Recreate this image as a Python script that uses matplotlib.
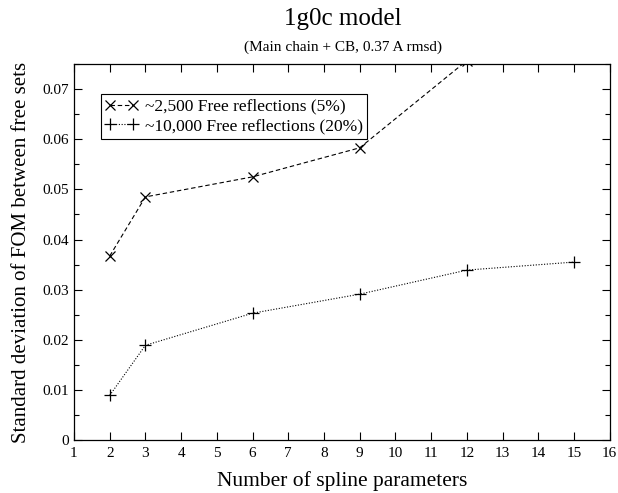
import matplotlib
matplotlib.use("Agg")
import matplotlib.pyplot as plt
from matplotlib.ticker import MultipleLocator

# ── DATA ────────────────────────────────────────────────────────────────────
spline_params = [2, 3, 6, 9, 12]
fom_sd_5pct   = [0.0367, 0.0485, 0.0525, 0.0583, 0.0757]

spline_params_20 = [2, 3, 6, 9, 12, 15]
fom_sd_20pct     = [0.0089, 0.0189, 0.0253, 0.0291, 0.0339, 0.0355]

x_ticks = list(range(1, 17))
y_ticks = [0, 0.01, 0.02, 0.03, 0.04, 0.05, 0.06, 0.07]
y_tick_labels = ["0", "0.01", "0.02", "0.03", "0.04", "0.05", "0.06", "0.07"]

# ── PLOT ────────────────────────────────────────────────────────────────────
plt.rcParams["font.family"] = ["Liberation Serif", "DejaVu Serif"]

fig = plt.figure(figsize=(6.18, 4.93), dpi=100)
ax = fig.add_axes([0.1197, 0.1075, 0.867, 0.7625])

ax.plot(spline_params, fom_sd_5pct, color="black", ls=(0, (4, 2.5)), lw=0.8,
        marker="x", ms=7, mew=0.9, label="~2,500 Free reflections (5%)")
ax.plot(spline_params_20, fom_sd_20pct, color="black", ls=(0, (1, 1.5)), lw=0.8,
        marker="+", ms=9, mew=0.9, label="~10,000 Free reflections (20%)")

ax.set_xlim(1, 16)
ax.set_ylim(0, 0.075)
ax.set_xticks(x_ticks)
ax.set_yticks(y_ticks)
ax.set_yticklabels(y_tick_labels)
ax.yaxis.set_minor_locator(MultipleLocator(0.005))
ax.tick_params(which="both", direction="in", top=True, right=True, labelsize=11)
ax.tick_params(which="major", length=6, width=0.8)
ax.tick_params(which="minor", length=3.5, width=0.8)
ax.tick_params(axis="x", pad=5)
for s in ax.spines.values():
    s.set_linewidth(0.9)

ax.set_xlabel("Number of spline parameters", fontsize=15.5, labelpad=8)
ax.set_ylabel("Standard deviation of FOM between free sets", fontsize=15, labelpad=8)

fig.text(0.555, 0.962, "1g0c model", ha="center", va="center", fontsize=18)
fig.text(0.555, 0.905, "(Main chain + CB, 0.37 A rmsd)", ha="center", va="center", fontsize=11)

leg = ax.legend(loc="upper left", bbox_to_anchor=(0.05, 0.92), fontsize=12.5,
                frameon=True, fancybox=False, edgecolor="black", framealpha=1,
                handlelength=1.9, handletextpad=0.4, borderpad=0.25,
                labelspacing=0.2, numpoints=2, borderaxespad=0)
leg.get_frame().set_linewidth(0.8)

plt.savefig("out.png", dpi=100)
